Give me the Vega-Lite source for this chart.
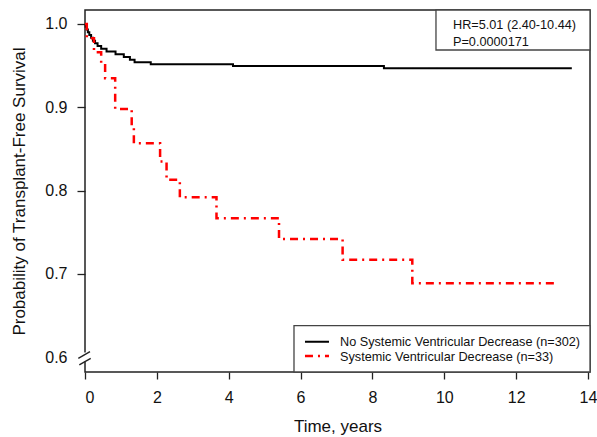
{
  "$schema": "https://vega.github.io/schema/vega-lite/v6.json",
  "width": 505,
  "height": 362,
  "autosize": {"type": "none"},
  "padding": {"left": 85, "top": 10, "right": 7, "bottom": 65},
  "background": "white",
  "config": {
    "view": {"stroke": "#222", "strokeWidth": 1.5},
    "font": "Liberation Sans",
    "axis": {
      "labelFont": "Liberation Sans",
      "titleFont": "Liberation Sans",
      "labelColor": "#111",
      "titleColor": "#111",
      "tickColor": "#222",
      "tickWidth": 1.3,
      "domain": false,
      "grid": false,
      "labelFontSize": 16,
      "titleFontSize": 17,
      "titleFontWeight": "normal"
    }
  },
  "datasets": {
    "km": [
      {"group": "No Systemic Ventricular Decrease (n=302)", "t": 0, "s": 1.0},
      {"group": "No Systemic Ventricular Decrease (n=302)", "t": 0.02, "s": 0.9967},
      {"group": "No Systemic Ventricular Decrease (n=302)", "t": 0.05, "s": 0.9934},
      {"group": "No Systemic Ventricular Decrease (n=302)", "t": 0.08, "s": 0.990},
      {"group": "No Systemic Ventricular Decrease (n=302)", "t": 0.12, "s": 0.9868},
      {"group": "No Systemic Ventricular Decrease (n=302)", "t": 0.17, "s": 0.9835},
      {"group": "No Systemic Ventricular Decrease (n=302)", "t": 0.22, "s": 0.980},
      {"group": "No Systemic Ventricular Decrease (n=302)", "t": 0.28, "s": 0.977},
      {"group": "No Systemic Ventricular Decrease (n=302)", "t": 0.35, "s": 0.9737},
      {"group": "No Systemic Ventricular Decrease (n=302)", "t": 0.45, "s": 0.9704},
      {"group": "No Systemic Ventricular Decrease (n=302)", "t": 0.60, "s": 0.967},
      {"group": "No Systemic Ventricular Decrease (n=302)", "t": 0.85, "s": 0.9638},
      {"group": "No Systemic Ventricular Decrease (n=302)", "t": 1.08, "s": 0.9605},
      {"group": "No Systemic Ventricular Decrease (n=302)", "t": 1.25, "s": 0.9572},
      {"group": "No Systemic Ventricular Decrease (n=302)", "t": 1.38, "s": 0.954},
      {"group": "No Systemic Ventricular Decrease (n=302)", "t": 1.83, "s": 0.9518},
      {"group": "No Systemic Ventricular Decrease (n=302)", "t": 4.12, "s": 0.9497},
      {"group": "No Systemic Ventricular Decrease (n=302)", "t": 8.32, "s": 0.9468},
      {"group": "No Systemic Ventricular Decrease (n=302)", "t": 13.55, "s": 0.9468},
      {"group": "Systemic Ventricular Decrease (n=33)", "t": 0, "s": 1.0},
      {"group": "Systemic Ventricular Decrease (n=33)", "t": 0.05, "s": 0.983},
      {"group": "Systemic Ventricular Decrease (n=33)", "t": 0.25, "s": 0.966},
      {"group": "Systemic Ventricular Decrease (n=33)", "t": 0.45, "s": 0.953},
      {"group": "Systemic Ventricular Decrease (n=33)", "t": 0.56, "s": 0.935},
      {"group": "Systemic Ventricular Decrease (n=33)", "t": 0.84, "s": 0.898},
      {"group": "Systemic Ventricular Decrease (n=33)", "t": 1.30, "s": 0.877},
      {"group": "Systemic Ventricular Decrease (n=33)", "t": 1.36, "s": 0.857},
      {"group": "Systemic Ventricular Decrease (n=33)", "t": 2.09, "s": 0.835},
      {"group": "Systemic Ventricular Decrease (n=33)", "t": 2.27, "s": 0.813},
      {"group": "Systemic Ventricular Decrease (n=33)", "t": 2.64, "s": 0.792},
      {"group": "Systemic Ventricular Decrease (n=33)", "t": 3.66, "s": 0.767},
      {"group": "Systemic Ventricular Decrease (n=33)", "t": 5.40, "s": 0.742},
      {"group": "Systemic Ventricular Decrease (n=33)", "t": 7.17, "s": 0.717},
      {"group": "Systemic Ventricular Decrease (n=33)", "t": 9.11, "s": 0.689},
      {"group": "Systemic Ventricular Decrease (n=33)", "t": 13.08, "s": 0.689}
    ],
    "boxes": [
      {"box": "hr", "x": 9.769, "x2": 14.056, "y": 0.9688, "y2": 1.0168},
      {"box": "legend", "x": 5.817, "x2": 14.056, "y": 0.58236, "y2": 0.6379}
    ],
    "notes": [
      {"label": "HR=5.01 (2.40-10.44)", "x": 10.242, "y": 0.9988},
      {"label": "P=0.0000171", "x": 10.242, "y": 0.9788},
      {"label": "No Systemic Ventricular Decrease (n=302)", "x": 7.097, "y": 0.6184},
      {"label": "Systemic Ventricular Decrease (n=33)", "x": 7.097, "y": 0.6005}
    ],
    "keys": [
      {"group": "No Systemic Ventricular Decrease (n=302)", "x": 6.123, "x2": 6.791, "y": 0.6187},
      {"group": "Systemic Ventricular Decrease (n=33)", "x": 6.123, "x2": 6.791, "y": 0.6016}
    ],
    "gap": [
      {"x": 0, "y": 0.5950, "y2": 0.6058}
    ],
    "slashes": [
      {"x": -0.186, "y": 0.5988, "x2": 0.139, "y2": 0.6068},
      {"x": -0.159, "y": 0.5908, "x2": 0.159, "y2": 0.5986}
    ]
  },
  "layer": [
    {
      "data": {"name": "km"},
      "mark": {"type": "line", "interpolate": "step-after", "strokeCap": "butt"},
      "encoding": {
        "x": {
          "field": "t", "type": "quantitative",
          "scale": {"domain": [0, 14.056], "nice": false, "zero": false},
          "axis": {"values": [0, 2, 4, 6, 8, 10, 12, 14], "title": "Time, years", "tickSize": 7, "labelPadding": 10, "titlePadding": 13}
        },
        "y": {
          "field": "s", "type": "quantitative",
          "scale": {"domain": [0.58236, 1.0168], "nice": false, "zero": false},
          "axis": {
            "values": [0.6, 0.7, 0.8, 0.9, 1.0], "format": ".1f",
            "title": "Probability of Transplant-Free Survival",
            "tickSize": 8, "labelPadding": 10, "titlePadding": 16,
            "tickColor": {"condition": {"test": "datum.value < 0.65", "value": "transparent"}, "value": "#222"}
          }
        },
        "color": {
          "field": "group", "type": "nominal",
          "scale": {"domain": ["No Systemic Ventricular Decrease (n=302)", "Systemic Ventricular Decrease (n=33)"], "range": ["#000000", "#ff0000"]},
          "legend": null
        },
        "strokeDash": {
          "field": "group", "type": "nominal",
          "scale": {"domain": ["No Systemic Ventricular Decrease (n=302)", "Systemic Ventricular Decrease (n=33)"], "range": [[1, 0], [8, 5, 2, 5]]},
          "legend": null
        },
        "strokeWidth": {
          "field": "group", "type": "ordinal",
          "scale": {"domain": ["No Systemic Ventricular Decrease (n=302)", "Systemic Ventricular Decrease (n=33)"], "range": [2, 2.5]},
          "legend": null
        }
      }
    },
    {
      "data": {"name": "boxes"},
      "mark": {"type": "rect", "fill": "white", "stroke": "#444", "strokeWidth": 1.3},
      "encoding": {
        "x": {"field": "x", "type": "quantitative"},
        "x2": {"field": "x2"},
        "y": {"field": "y", "type": "quantitative"},
        "y2": {"field": "y2"}
      }
    },
    {
      "data": {"name": "notes"},
      "mark": {"type": "text", "align": "left", "baseline": "middle", "fontSize": 12.7, "font": "Liberation Sans", "color": "#111"},
      "encoding": {
        "x": {"field": "x", "type": "quantitative"},
        "y": {"field": "y", "type": "quantitative"},
        "text": {"field": "label"}
      }
    },
    {
      "data": {"name": "keys"},
      "mark": {"type": "rule", "strokeCap": "butt"},
      "encoding": {
        "x": {"field": "x", "type": "quantitative"},
        "x2": {"field": "x2"},
        "y": {"field": "y", "type": "quantitative"},
        "color": {"field": "group", "type": "nominal", "legend": null},
        "strokeDash": {"field": "group", "type": "nominal", "legend": null},
        "strokeWidth": {"field": "group", "type": "ordinal", "legend": null}
      }
    },
    {
      "data": {"name": "gap"},
      "mark": {"type": "rule", "stroke": "white", "strokeWidth": 4},
      "encoding": {
        "x": {"field": "x", "type": "quantitative"},
        "y": {"field": "y", "type": "quantitative"},
        "y2": {"field": "y2"}
      }
    },
    {
      "data": {"name": "slashes"},
      "mark": {"type": "rule", "stroke": "#222", "strokeWidth": 1.4},
      "encoding": {
        "x": {"field": "x", "type": "quantitative"},
        "x2": {"field": "x2"},
        "y": {"field": "y", "type": "quantitative"},
        "y2": {"field": "y2"}
      }
    }
  ]
}
